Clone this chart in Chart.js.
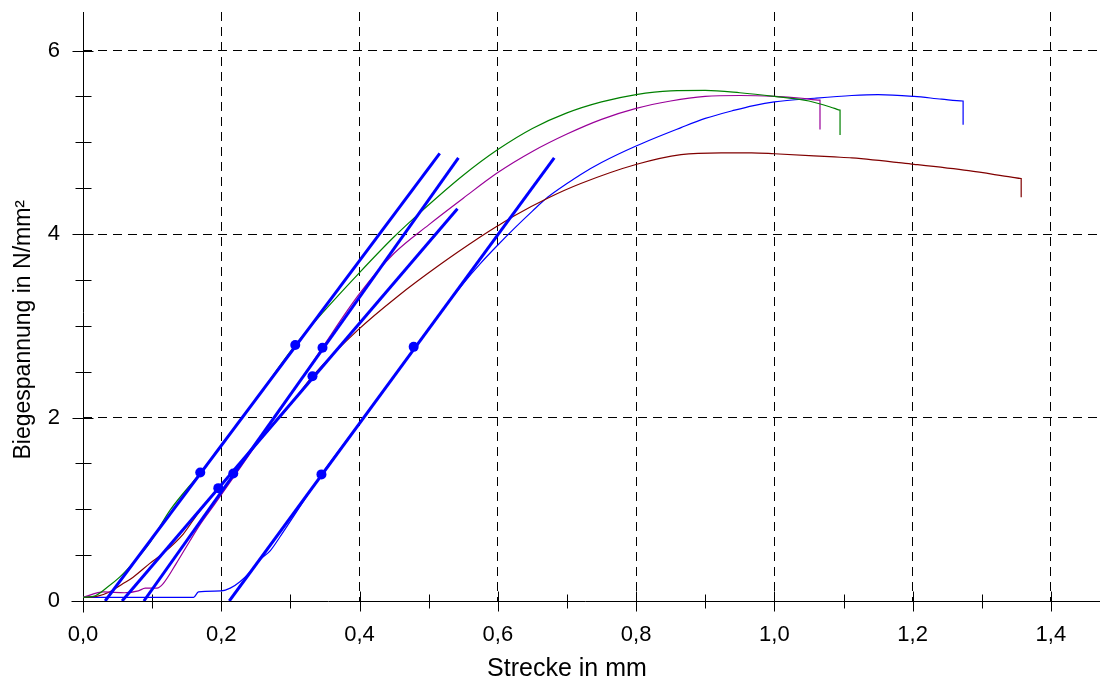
<!DOCTYPE html>
<html>
<head>
<meta charset="utf-8">
<script src="https://cdn.jsdelivr.net/npm/chart.js@4"></script>
<style>
  html, body { margin: 0; padding: 0; background: #fff; }
  #wrap { width: 1101px; height: 682px; }
</style>
</head>
<body>
<div id="wrap"><canvas id="chart" width="1101" height="682"></canvas></div>
<script>
// measured curves: Strecke (mm) / Biegespannung (N/mm²)
var greenX = [0, 0.015, 0.036, 0.053, 0.072, 0.097, 0.126, 0.17, 0.2, 0.25, 0.307, 0.35, 0.4, 0.45, 0.49, 0.55, 0.6, 0.65, 0.7, 0.75, 0.8, 0.85, 0.9, 0.95, 1.0, 1.05, 1.087, 1.095, 1.095];
var greenY = [0.04, 0.05, 0.155, 0.26, 0.41, 0.64, 0.99, 1.40, 1.70, 2.20, 2.79, 3.17, 3.58, 3.97, 4.25, 4.64, 4.92, 5.15, 5.32, 5.44, 5.52, 5.56, 5.565, 5.54, 5.50, 5.45, 5.37, 5.35, 5.08];

var purpleX = [0, 0.03, 0.06, 0.08, 0.09, 0.107, 0.116, 0.135, 0.155, 0.17, 0.19, 0.25, 0.3, 0.346, 0.4, 0.45, 0.5, 0.55, 0.6, 0.65, 0.7, 0.75, 0.8, 0.85, 0.9, 0.95, 1.0, 1.04, 1.066, 1.066];
var purpleY = [0.04, 0.10, 0.09, 0.11, 0.14, 0.14, 0.19, 0.41, 0.66, 0.84, 1.05, 1.70, 2.24, 2.76, 3.35, 3.79, 4.10, 4.39, 4.67, 4.90, 5.09, 5.25, 5.37, 5.45, 5.50, 5.51, 5.50, 5.48, 5.46, 5.14];

var redX = [0, 0.02, 0.039, 0.058, 0.0725, 0.0967, 0.116, 0.145, 0.164, 0.196, 0.25, 0.3, 0.332, 0.397, 0.455, 0.517, 0.575, 0.6, 0.624, 0.672, 0.72, 0.801, 0.865, 0.923, 0.967, 1.0, 1.087, 1.112, 1.202, 1.281, 1.343, 1.357, 1.357];
var redY = [0.04, 0.05, 0.10, 0.19, 0.26, 0.41, 0.52, 0.73, 0.93, 1.23, 1.70, 2.14, 2.45, 2.95, 3.32, 3.67, 3.97, 4.09, 4.20, 4.39, 4.55, 4.76, 4.865, 4.885, 4.885, 4.875, 4.84, 4.83, 4.76, 4.69, 4.62, 4.605, 4.40];

var blueX = [0, 0.05, 0.1, 0.16, 0.167, 0.2, 0.213, 0.227, 0.242, 0.256, 0.271, 0.285, 0.3, 0.345, 0.4, 0.45, 0.5, 0.55, 0.575, 0.6, 0.625, 0.65, 0.672, 0.7, 0.72, 0.75, 0.8, 0.865, 0.9, 0.9425, 0.97, 1.0, 1.058, 1.112, 1.15, 1.202, 1.242, 1.273, 1.273];
var blueY = [0.04, 0.04, 0.04, 0.04, 0.10, 0.11, 0.14, 0.21, 0.32, 0.45, 0.55, 0.70, 0.87, 1.38, 1.94, 2.45, 2.97, 3.46, 3.68, 3.88, 4.07, 4.25, 4.40, 4.55, 4.65, 4.78, 4.96, 5.16, 5.26, 5.35, 5.40, 5.44, 5.48, 5.51, 5.52, 5.50, 5.47, 5.45, 5.19];

// fitted tangent lines (start, end)
var fit1X = [0.032, 0.516],  fit1Y = [0, 4.88];
var fit2X = [0.088, 0.543],  fit2Y = [0, 4.83];
var fit3X = [0.0565, 0.5416], fit3Y = [0, 4.275];
var fit4X = [0.2116, 0.6816], fit4Y = [0, 4.83];

// marker points on the tangents
var dotX = [0.1696, 0.307, 0.2174, 0.3464, 0.1957, 0.3319, 0.3449, 0.4783];
var dotY = [1.40, 2.79, 1.39, 2.76, 1.23, 2.45, 1.38, 2.77];

// ticks
var xTicks = [0, 0.2, 0.4, 0.6, 0.8, 1.0, 1.2, 1.4];
var xMinor = [0.1, 0.3, 0.5, 0.7, 0.9, 1.1, 1.3];
var yTicks = [0, 2, 4, 6];
var yMinor = [0.5, 1, 1.5, 2.5, 3, 3.5, 4.5, 5, 5.5];

var xTitle = 'Strecke in mm';
var yTitle = 'Biegespannung in N/mm²';

function pts(xs, ys) {
    return xs.map(function (v, i) { return {x: v, y: ys[i]}; });
}

function curve(xs, ys, color) {
    return {
        data: pts(xs, ys),
        showLine: true,
        borderColor: color,
        borderWidth: 1.2,
        pointRadius: 0,
        cubicInterpolationMode: 'monotone'
    };
}

function fitLine(xs, ys) {
    return {
        data: pts(xs, ys),
        showLine: true,
        borderColor: '#0000ff',
        borderWidth: 3,
        pointRadius: 0
    };
}

var FONT = 'Liberation Sans, Arial, sans-serif';

// axes with ticks crossing the line, plus the axis titles
var axesPlugin = {
    id: 'axesCross',
    beforeDatasetsDraw: function (chart) {
        var ctx = chart.ctx;
        var xs = chart.scales.x, ys = chart.scales.y;
        var x0 = Math.round(xs.getPixelForValue(0)) + 0.5;
        var y0 = Math.round(ys.getPixelForValue(0)) + 0.5;
        var area = chart.chartArea;
        ctx.save();
        ctx.strokeStyle = '#000';
        ctx.lineWidth = 1;
        ctx.beginPath();
        ctx.moveTo(x0 - 12, y0);
        ctx.lineTo(area.right, y0);
        ctx.moveTo(x0, area.top);
        ctx.lineTo(x0, y0 + 11);
        xTicks.forEach(function (v) {
            var p = Math.round(xs.getPixelForValue(v)) + 0.5;
            ctx.moveTo(p, y0 - 10);
            ctx.lineTo(p, y0 + 10);
        });
        xMinor.forEach(function (v) {
            var p = Math.round(xs.getPixelForValue(v)) + 0.5;
            ctx.moveTo(p, y0 - 7);
            ctx.lineTo(p, y0 + 7);
        });
        yTicks.forEach(function (v) {
            var p = Math.round(ys.getPixelForValue(v)) + 0.5;
            ctx.moveTo(x0 - 11, p);
            ctx.lineTo(x0 + 10, p);
        });
        yMinor.forEach(function (v) {
            var p = Math.round(ys.getPixelForValue(v)) + 0.5;
            ctx.moveTo(x0 - 8, p);
            ctx.lineTo(x0 + 8, p);
        });
        ctx.stroke();
        ctx.restore();
    },
    afterDraw: function (chart) {
        // titles are centred on the labelled tick range, not the whole axis
        var ctx = chart.ctx;
        var xs = chart.scales.x, ys = chart.scales.y;
        var cx = (xs.getPixelForValue(xTicks[0]) + xs.getPixelForValue(xTicks[xTicks.length - 1])) / 2;
        var cy = (ys.getPixelForValue(yTicks[0]) + ys.getPixelForValue(yTicks[yTicks.length - 1])) / 2;
        ctx.save();
        ctx.fillStyle = '#000';
        ctx.textAlign = 'center';
        ctx.textBaseline = 'alphabetic';
        ctx.font = '25px ' + FONT;
        ctx.fillText(xTitle, cx, 676);
        ctx.font = '23px ' + FONT;
        ctx.translate(30, cy + 4);
        ctx.rotate(-Math.PI / 2);
        ctx.fillText(yTitle, 0, 0);
        ctx.restore();
    }
};

function comma(v) {
    return v.toFixed(1).replace('.', ',');
}

new Chart(document.getElementById('chart'), {
    type: 'scatter',
    data: {
        datasets: [
            {
                data: pts(dotX, dotY),
                pointRadius: 5,
                pointBackgroundColor: '#0000ff',
                pointBorderColor: '#0000ff',
                pointBorderWidth: 0,
                showLine: false
            },
            fitLine(fit1X, fit1Y),
            fitLine(fit2X, fit2Y),
            fitLine(fit3X, fit3Y),
            fitLine(fit4X, fit4Y),
            curve(greenX, greenY, '#008000'),
            curve(purpleX, purpleY, '#990099'),
            curve(redX, redY, '#800000'),
            curve(blueX, blueY, '#0000ff')
        ]
    },
    options: {
        responsive: false,
        animation: false,
        devicePixelRatio: 1,
        layout: { autoPadding: false, padding: { top: 12, right: 1, left: 0, bottom: 0 } },
        plugins: {
            legend: { display: false },
            tooltip: { enabled: false }
        },
        scales: {
            x: {
                type: 'linear',
                min: 0,
                max: 1.471,
                afterBuildTicks: function (scale) {
                    scale.ticks = xTicks.map(function (v) { return {value: v}; });
                },
                afterFit: function (scale) {
                    scale.height = 81;
                    scale.paddingLeft = 0;
                    scale.paddingRight = 0;
                },
                ticks: {
                    padding: 21,
                    color: '#000',
                    font: { family: FONT, size: 22 },
                    maxRotation: 0,
                    autoSkip: false,
                    callback: function (v) { return comma(v); }
                },
                grid: {
                    drawTicks: false,
                    lineWidth: 1,
                    color: function (c) { return c.tick && c.tick.value === 0 ? 'rgba(0,0,0,0)' : '#000'; }
                },
                border: { display: false, dash: [9, 6] }
            },
            y: {
                type: 'linear',
                min: 0,
                max: 6.42,
                afterBuildTicks: function (scale) {
                    scale.ticks = yTicks.map(function (v) { return {value: v}; });
                },
                afterFit: function (scale) {
                    scale.width = 83;
                    scale.paddingTop = 0;
                    scale.paddingBottom = 0;
                },
                ticks: {
                    padding: 23,
                    color: '#000',
                    font: { family: FONT, size: 22 },
                    callback: function (v) { return String(v); }
                },
                grid: {
                    drawTicks: false,
                    lineWidth: 1,
                    color: function (c) { return c.tick && c.tick.value === 0 ? 'rgba(0,0,0,0)' : '#000'; }
                },
                border: { display: false, dash: [9, 6] }
            }
        }
    },
    plugins: [axesPlugin]
});
</script>
</body>
</html>
